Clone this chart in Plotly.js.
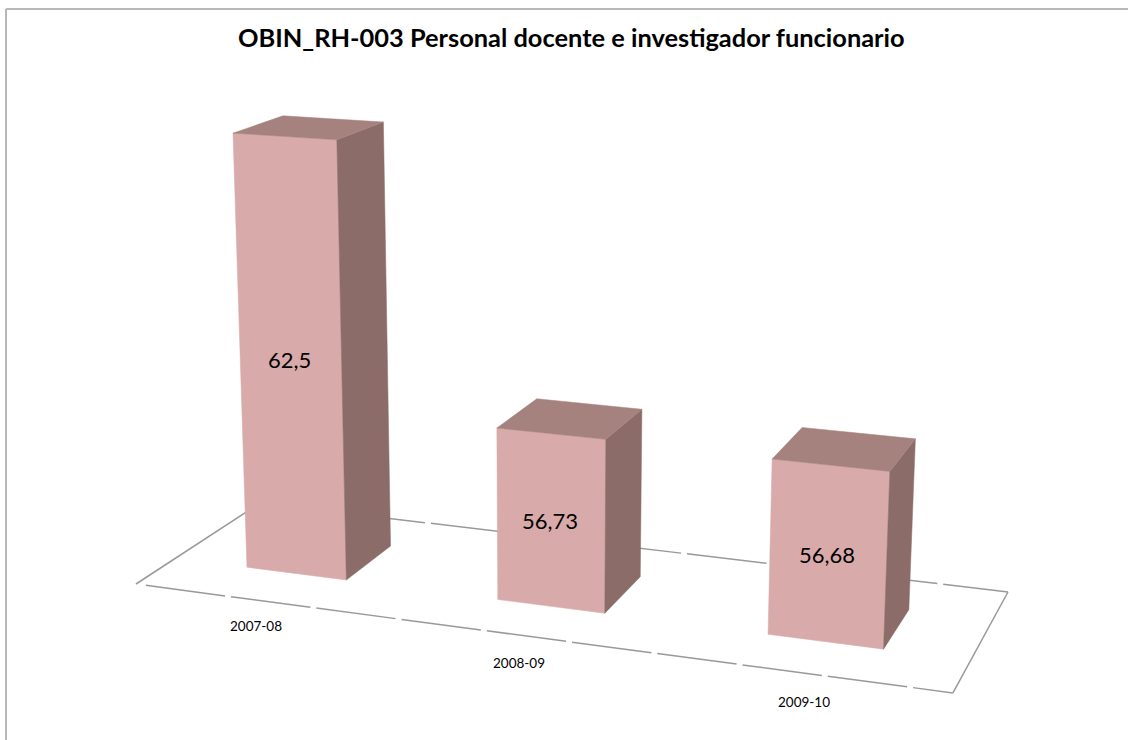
<!DOCTYPE html>
<html><head><meta charset="utf-8">
<script src="https://cdn.plot.ly/plotly-3.0.1.min.js"></script>
<style>html,body{margin:0;padding:0;background:#fff}#c{width:1128px;height:740px}</style></head>
<body><div id="c"></div>
<script>
var titleText = 'OBIN_RH-003 Personal docente e investigador funcionario';
var categories = ['2007-08', '2008-09', '2009-10'];
var values = [62.5, 56.73, 56.68];
var valueLabels = ['62,5', '56,73', '56,68'];

// Axis baseline of the value scale and 3D view calibration
var zBase = 53;
var barW = 0.135, vFront = 0.30, vBack = 0.70, labelV = -0.235, labelDU = 0.028, labelSpread = 0.98;
var H = {a:712.5,b:150.1,c:136,d:33,e:-30.5,f:584,g:-0.1096,h:0.1003};
var vert = {k:0.00472,x:550,y:10000};
function project(u, v, val) {
  var z = val - zBase, kz = vert.k * z;
  var w = H.g*u + H.h*v + 1 - kz;
  return [(H.a*u + H.b*v + H.c - kz*vert.x)/w, (H.d*u + H.e*v + H.f - kz*vert.y)/w];
}
function poly(pts, color, name) {
  var p = pts.map(function(q){return project(q[0],q[1],q[2]);});
  p.push(p[0]);
  return {type:'scatter',mode:'lines',x:p.map(function(q){return q[0];}),y:p.map(function(q){return q[1];}),
    fill:'toself',fillcolor:color,line:{color:color,width:0.5},hoverinfo:'skip',showlegend:false,name:name};
}
function edge(a, b, dash) {
  var p = [project(a[0],a[1],zBase), project(b[0],b[1],zBase)];
  return {type:'scatter',mode:'lines',x:[p[0][0],p[1][0]],y:[p[0][1],p[1][1]],
    line:{color:'#999999',width:1.5,dash:dash},hoverinfo:'skip',showlegend:false};
}
var traces = [edge([0.0135,0],[1,0],'80px,6px'), edge([0,1],[1,1],'80px,6px'), edge([0,0],[0,1],'solid'), edge([1,0],[1,1],'solid')];
var n = categories.length;
categories.forEach(function(cat, i) {
  var c = (i+0.5)/n, l = c-barW/2, r = c+barW/2, t = values[i];
  traces.push(poly([[l,vFront,zBase],[r,vFront,zBase],[r,vFront,t],[l,vFront,t]], '#d9aaaa', cat));
  traces.push(poly([[r,vFront,zBase],[r,vBack,zBase],[r,vBack,t],[r,vFront,t]], '#8b6c68', cat));
  traces.push(poly([[l,vFront,t],[r,vFront,t],[r,vBack,t],[l,vBack,t]], '#a6827e', cat));
});
var ann = [];
categories.forEach(function(cat, i) {
  var c = (i+0.5)/n;
  var m = project(c, vFront, (values[i]+zBase)/2);
  ann.push({x:m[0]-1,y:m[1],text:valueLabels[i],showarrow:false,font:{family:'Lato',size:22,color:'#000'}});
  var q = project(0.5+(c-0.5)*labelSpread+labelDU, labelV, zBase);
  ann.push({x:q[0],y:q[1],text:cat,showarrow:false,font:{family:'Lato',size:13.5,color:'#000'}});
});
ann.push({x:571,y:37,text:'<b>'+titleText+'</b>',showarrow:false,font:{family:'Lato',size:25.4,color:'#000'}});
Plotly.newPlot('c', traces, {
  width:1128,height:740,margin:{l:0,r:0,t:0,b:0},paper_bgcolor:'#fff',plot_bgcolor:'#fff',
  xaxis:{range:[0,1128],visible:false,fixedrange:true},
  yaxis:{range:[740,0],visible:false,fixedrange:true},
  showlegend:false,annotations:ann,
  shapes:[{type:'line',x0:6,x1:1128,y0:9,y1:9,line:{color:'#b8b8b8',width:2}},
          {type:'line',x0:6,x1:6,y0:9,y1:740,line:{color:'#b8b8b8',width:2}}]
},{displayModeBar:false,staticPlot:true});
</script></body></html>
